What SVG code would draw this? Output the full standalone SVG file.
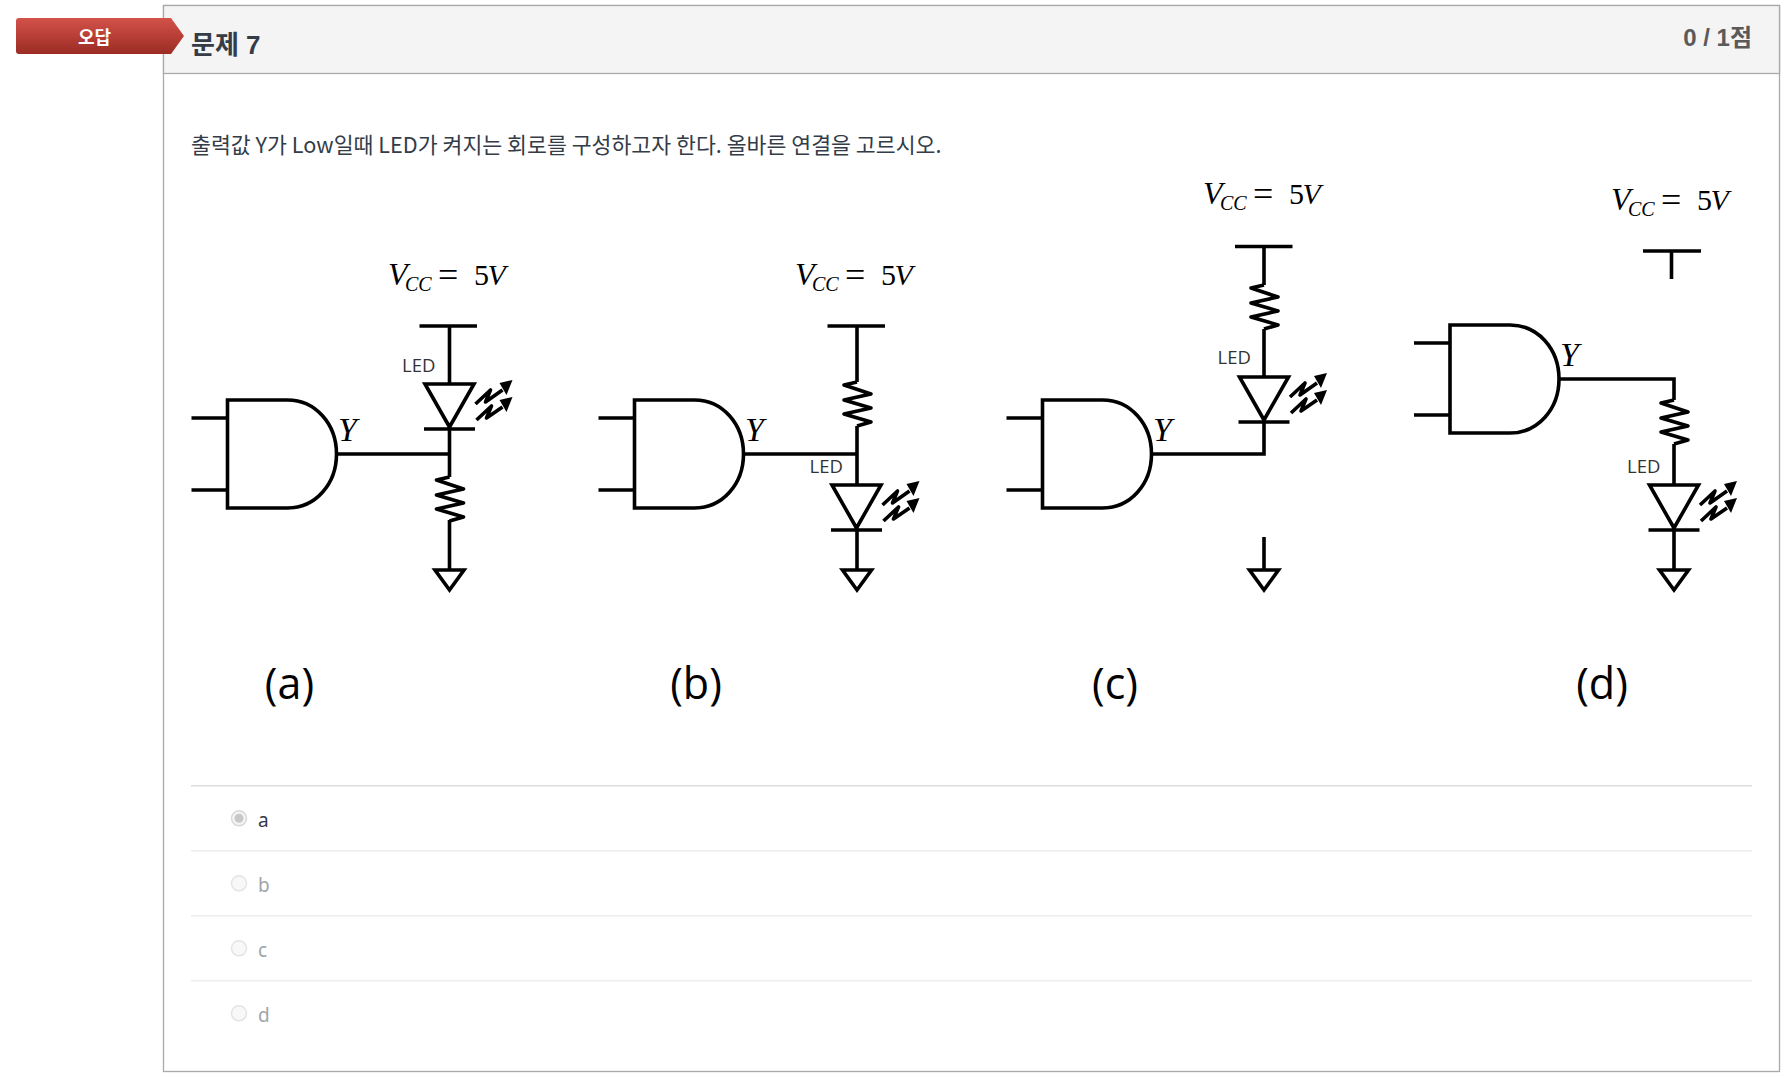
<svg xmlns="http://www.w3.org/2000/svg" width="1786" height="1078" viewBox="0 0 1786 1078">
<style>
.w{fill:none;stroke:#000;stroke-width:3.6;stroke-linejoin:miter}
.j{fill:none;stroke:#000;stroke-width:3.6;stroke-linejoin:round}
.kr{font-family:"Noto Sans CJK KR","Noto Sans",sans-serif}
.hd{font-family:"Liberation Sans","Noto Sans CJK KR",sans-serif;font-weight:700}
.led{font-family:"Open Sans","Noto Sans",sans-serif;font-size:18.5px;fill:#333}
.y{font-family:"Liberation Serif",serif;font-style:italic;font-size:34px;fill:#000}
.vcc{font-family:"Liberation Serif",serif;font-size:30px;fill:#000}
.vcc .v{font-style:italic;font-size:32px}
.vcc .i{font-style:italic}
.vcc .s{font-style:italic;font-size:20px}
.vcc .e{font-size:36px}
.cap{font-family:"Open Sans","Noto Sans",sans-serif;font-size:43px;fill:#000;text-anchor:middle}
.opt{font-family:"Noto Sans","Open Sans",sans-serif;font-size:19px;fill:#a0a4a9}
.r{fill:#f8f8f8;stroke:#e4e4e4;stroke-width:1.5}
.sep{stroke:#eee;stroke-width:1.5}
</style>
<defs>
<linearGradient id="rib" x1="0" y1="0" x2="0" y2="1"><stop offset="0" stop-color="#d3524a"/><stop offset="1" stop-color="#9b2c24"/></linearGradient>
<g id="gate"><path class="w" d="M0,-54H60C88,-54 109,-30 109,0C109,30 88,54 60,54H0ZM-36,-36H0M-36,36H0"/></g>
<g id="res"><path class="j" d="M0,0L-13,3L14,12L-13,18L14,26L-13,32L14,40L0,44"/></g>
<g id="gnd"><path class="w" d="M-14.5,0H14.5L0,20Z"/></g>
<g id="led"><path class="w" d="M-24.5,0H24.5L0,43ZM0,43V45M-25.5,45H25.5"/>
<path class="j" d="M26,20L41,6L36,18L53,6"/><path d="M63,-4L57,11L50,-1Z" fill="#000"/>
<path class="j" d="M27,36L42,22L37,34L53,23"/><path d="M63,13L57,28L50,16Z" fill="#000"/></g>
</defs>
<rect width="1786" height="1078" fill="#fff"/>
<g id="frame">
<rect x="163.5" y="5.5" width="1616" height="1066" fill="#fff" stroke="#aaa" stroke-width="1.3"/>
<rect x="163.5" y="5.5" width="1616" height="68" fill="#f4f4f4" stroke="#aaa" stroke-width="1.3"/>
<text class="hd" x="191" y="54" font-size="26" fill="#333c47">문제 7</text>
<text class="hd" x="1752" y="46" font-size="24" fill="#5a5a5a" text-anchor="end">0 / 1점</text>
<text class="kr" x="191" y="152.5" font-size="21.65" fill="#333c47">출력값 Y가 Low일때 LED가 켜지는 회로를 구성하고자 한다. 올바른 연결을 고르시오.</text>
</g>
<g id="ribbon">
<path d="M19,18H171L184,36L171,54H19Q16,54 16,51V21Q16,18 19,18Z" fill="url(#rib)"/>
<text class="kr" x="94.5" y="44" font-size="18" font-weight="700" fill="#fff" text-anchor="middle">오답</text>
</g>
<g id="connectors">
<path class="w" d="M449.5,326V384M449.5,429V477M336.5,454H449.5M449.5,520V570"/>
<path class="w" d="M857,326V382M857,426V485M743.5,454H857M857,530V570"/>
<path class="w" d="M1264,246V285M1264,329V377M1264,422V454H1151.5M1264,537V570"/>
<path class="w" d="M1671.5,251V279M1559,379H1674V400M1674,444V485M1674,530V570"/>
</g>
<g id="circuit-a">
<use href="#gate" x="227.5" y="454"/>
<path class="w" d="M419.5,326H477"/>
<use href="#led" x="449.5" y="384"/><use href="#res" x="449.5" y="477"/><use href="#gnd" x="449.5" y="570"/>
<text class="led" x="402" y="371.5">LED</text>
<text class="y" x="338" y="440.5">Y</text>
<text class="vcc" y="285"><tspan class="v" x="388">V</tspan><tspan class="s" x="405" dy="6">CC</tspan><tspan class="e" x="438" dy="-4">=</tspan><tspan x="474" dy="-2">5</tspan><tspan class="i" dx="-1.5">V</tspan></text>
<text class="cap" x="289.5" y="698.5">(a)</text>
</g>
<g id="circuit-b">
<use href="#gate" x="634.5" y="454"/>
<path class="w" d="M827.5,326H885"/>
<use href="#res" x="857" y="382"/><use href="#led" x="856.5" y="485"/><use href="#gnd" x="857" y="570"/>
<text class="led" x="809.5" y="473">LED</text>
<text class="y" x="745" y="440.5">Y</text>
<text class="vcc" y="285"><tspan class="v" x="795">V</tspan><tspan class="s" x="812" dy="6">CC</tspan><tspan class="e" x="845" dy="-4">=</tspan><tspan x="881" dy="-2">5</tspan><tspan class="i" dx="-1.5">V</tspan></text>
<text class="cap" x="696" y="698.5">(b)</text>
</g>
<g id="circuit-c">
<use href="#gate" x="1042.5" y="454"/>
<path class="w" d="M1235,246.5H1292.5"/>
<use href="#res" x="1264" y="285"/><use href="#led" x="1264" y="377"/><use href="#gnd" x="1264" y="570"/>
<text class="led" x="1217.5" y="364">LED</text>
<text class="y" x="1153" y="440.5">Y</text>
<text class="vcc" y="204"><tspan class="v" x="1203">V</tspan><tspan class="s" x="1220" dy="6">CC</tspan><tspan class="e" x="1253" dy="-4">=</tspan><tspan x="1289" dy="-2">5</tspan><tspan class="i" dx="-1.5">V</tspan></text>
<text class="cap" x="1115" y="698.5">(c)</text>
</g>
<g id="circuit-d">
<use href="#gate" x="1450" y="379"/>
<path class="w" d="M1643,251H1701"/>
<use href="#res" x="1674" y="400"/><use href="#led" x="1674" y="485"/><use href="#gnd" x="1674" y="570"/>
<text class="led" x="1627" y="473">LED</text>
<text class="y" x="1560" y="366">Y</text>
<text class="vcc" y="210"><tspan class="v" x="1611">V</tspan><tspan class="s" x="1628" dy="6">CC</tspan><tspan class="e" x="1661" dy="-4">=</tspan><tspan x="1697" dy="-2">5</tspan><tspan class="i" dx="-1.5">V</tspan></text>
<text class="cap" x="1602" y="698.5">(d)</text>
</g>
<g id="options">
<path d="M191,785.7H1752" stroke="#ddd" stroke-width="1.5"/>
<path class="sep" d="M191,850.7H1752M191,915.7H1752M191,980.7H1752"/>
<g id="opt-a"><circle cx="239" cy="818.3" r="7.5" fill="#f4f4f4" stroke="#d8d8d8" stroke-width="1.5"/><circle cx="239" cy="818.3" r="4.5" fill="#c8c8c8"/><text class="opt" x="258" y="826.5" style="fill:#333c47">a</text></g>
<g id="opt-b"><circle class="r" cx="239" cy="883.3" r="7.5"/><text class="opt" x="258" y="891.5">b</text></g>
<g id="opt-c"><circle class="r" cx="239" cy="948.3" r="7.5"/><text class="opt" x="258" y="956.5">c</text></g>
<g id="opt-d"><circle class="r" cx="239" cy="1013.3" r="7.5"/><text class="opt" x="258" y="1021.5">d</text></g>
</g>
</svg>
